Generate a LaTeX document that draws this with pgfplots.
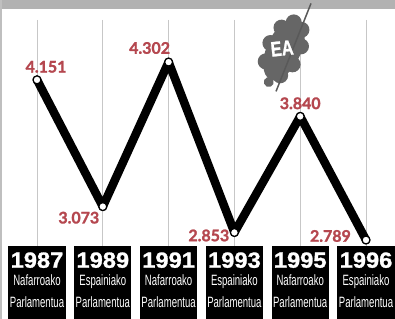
\documentclass[border=0pt]{standalone}
\usepackage{pgfplots}
\pgfplotsset{compat=1.18}
\usepackage{fontspec}
\setmainfont{Liberation Sans}[BoldFeatures={FakeBold=1.2}]
\newfontfamily\lato{Lato}[BoldFeatures={FakeBold=1.5}]
\definecolor{vred}{HTML}{B5474F}
\newcommand{\yearbox}[5]{%
  \fill[black] (axis cs:#4,2738) rectangle (axis cs:#5,2050);
  \node[anchor=north, text=white, inner sep=0pt, font=\bfseries\fontsize{22}{22}\selectfont] at (axis cs:#1,2685)
   {\scalebox{1.08}[1]{#2}};
  \node[anchor=north, text=white, inner sep=0pt, font=\fontsize{15}{15}\selectfont] at (axis cs:#1,2495)
   {\scalebox{0.64}[1]{#3}};
  \node[anchor=north, text=white, inner sep=0pt, font=\fontsize{15}{15}\selectfont] at (axis cs:#1,2308)
   {\scalebox{0.64}[1]{Parlamentua}};
}
\begin{document}
\begin{tikzpicture}
\begin{axis}[at={(0,0)}, anchor=south west, scale only axis, width=395bp, height=319bp,
  xmin=-0.5623, xmax=5.4407, ymin=2117, ymax=4830, hide axis, clip=false]
\fill[white] (rel axis cs:0,0) rectangle (rel axis cs:1,1);
\fill[black!30] (rel axis cs:0,1) rectangle (rel axis cs:1,0.973);
\fill[black!25] (rel axis cs:0,0) rectangle (rel axis cs:0.005,1);
\coordinate (bl) at (rel axis cs:0,0);
\coordinate (tr) at (rel axis cs:1,1);
\coordinate (leaf) at (axis cs:3.754,4410);
\pgfplotsinvokeforeach{0,...,5}{
  \draw[black!22, line width=0.7bp] (axis cs:#1,4660) -- (axis cs:#1,2738);
}
\addplot[black, line width=8.5bp, line join=round, line cap=round,
  mark=*, mark size=4bp, mark options={fill=white, draw=black, line width=1.3bp, solid}]
  coordinates {(0,4151) (1,3073) (2,4302) (3,2853) (4,3840) (5,2789)};
\begin{scope}[every node/.style={text=vred, font=\lato\bfseries\fontsize{16}{16}\selectfont, inner sep=0pt}]
\node[anchor=south] at (axis cs:0,4151) [xshift=9bp, yshift=7bp] {4.151};
\node[anchor=south] at (axis cs:2,4302) [xshift=-19bp, yshift=8bp] {4.302};
\node[anchor=north] at (axis cs:1,3073) [xshift=-24bp, yshift=-5bp] {3.073};
\node[anchor=east] at (axis cs:3,2853) [xshift=-5bp, yshift=-3bp] {2.853};
\node[anchor=south] at (axis cs:4,3840) [yshift=7bp] {3.840};
\node[anchor=east] at (axis cs:5,2789) [xshift=-15bp, yshift=4bp] {2.789};
\end{scope}
\yearbox{0}{1987}{Nafarroako}{-0.435}{0.435}
\yearbox{1}{1989}{Espainiako}{0.565}{1.435}
\yearbox{2}{1991}{Nafarroako}{1.565}{2.435}
\yearbox{3}{1993}{Espainiako}{2.565}{3.435}
\yearbox{4}{1995}{Nafarroako}{3.565}{4.435}
\yearbox{5}{1996}{Espainiako}{4.565}{5.435}
\end{axis}
% leaf logo
\begin{scope}[shift={(leaf)}]
  \begin{scope}[rotate=-25]
    \fill[black!60] (0,0) ellipse (17bp and 33bp);
    \foreach \a in {-60,-20,20,60,100,140,180,220} {
      \fill[black!60] ({15*cos(\a)*1bp},{29*sin(\a)*1bp}) circle (8bp);
    }
    \fill[black!60] (0,-36bp) circle (5bp);
  \end{scope}
  \draw[black!65, line width=1.5bp] (-8bp,-42bp) -- (27bp,46bp);
  \node[text=white, font=\bfseries\fontsize{21}{21}\selectfont, rotate=6, inner sep=0pt] at (-2bp,1bp) {\scalebox{0.78}[1]{EA}};
\end{scope}
\pgfresetboundingbox
\path (bl) rectangle (tr);
\end{tikzpicture}
\end{document}
